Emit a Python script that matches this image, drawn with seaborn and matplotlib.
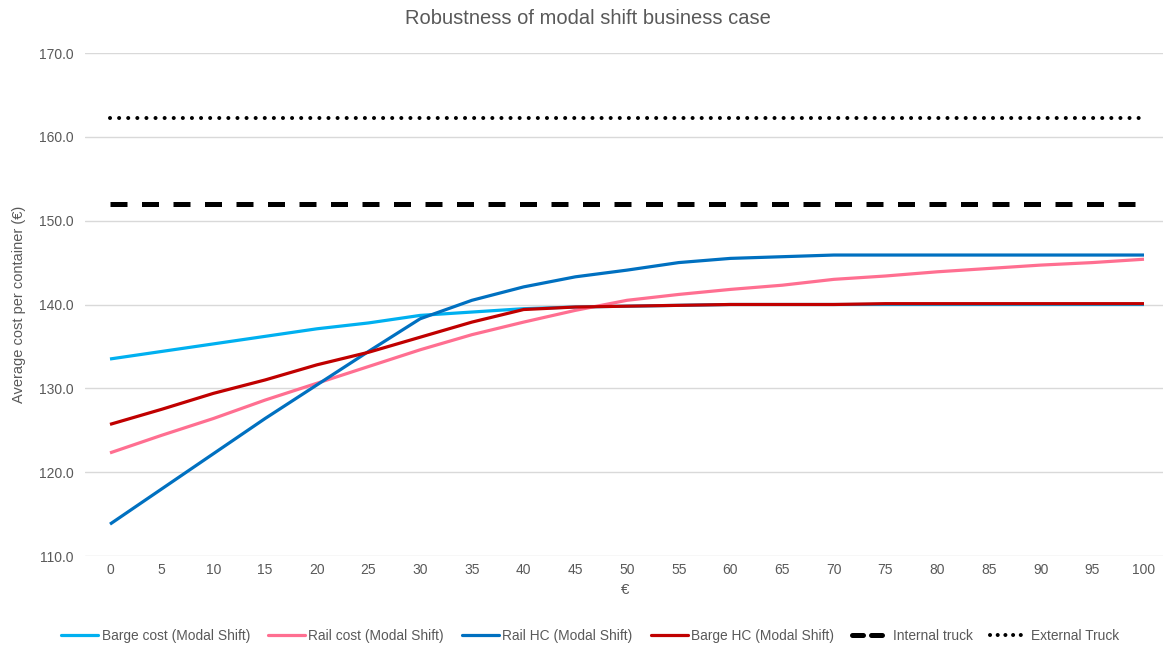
import numpy as np
import pandas as pd
import matplotlib
matplotlib.use("Agg")
import matplotlib.pyplot as plt
import seaborn as sns
from matplotlib.lines import Line2D

# Surcharge levels (€) on the x axis
surcharge = [0, 5, 10, 15, 20, 25, 30, 35, 40, 45, 50,
             55, 60, 65, 70, 75, 80, 85, 90, 95, 100]

# Average cost per container (€) for each scenario
barge_cost = [133.5, 134.4, 135.3, 136.2, 137.1, 137.8, 138.7, 139.1, 139.5, 139.7, 139.8,
              139.9, 140.0, 140.0, 140.0, 140.0, 140.0, 140.0, 140.0, 140.0, 140.0]
rail_cost = [122.3, 124.4, 126.4, 128.6, 130.6, 132.6, 134.6, 136.4, 137.9, 139.3, 140.5,
             141.2, 141.8, 142.3, 143.0, 143.4, 143.9, 144.3, 144.7, 145.0, 145.4]
rail_hc = [113.8, 118.0, 122.2, 126.4, 130.4, 134.4, 138.3, 140.5, 142.1, 143.3, 144.1,
           145.0, 145.5, 145.7, 145.9, 145.9, 145.9, 145.9, 145.9, 145.9, 145.9]
barge_hc = [125.7, 127.5, 129.4, 131.0, 132.8, 134.3, 136.1, 137.9, 139.4, 139.7, 139.8,
            139.9, 140.0, 140.0, 140.0, 140.1, 140.1, 140.1, 140.1, 140.1, 140.1]
internal_truck = [152.0] * len(surcharge)
external_truck = [162.2] * len(surcharge)

series_names = ["Barge cost (Modal Shift)", "Rail cost (Modal Shift)",
                "Rail HC (Modal Shift)", "Barge HC (Modal Shift)",
                "Internal truck", "External Truck"]
series_values = [barge_cost, rail_cost, rail_hc, barge_hc, internal_truck, external_truck]
series_colors = ["#00B0F0", "#FF6F91", "#0070C0", "#C00000", "#000000", "#000000"]

y_ticks = [110, 120, 130, 140, 150, 160, 170]

sns.set_theme(style="white")
plt.rcParams["font.family"] = ["Liberation Sans", "DejaVu Sans"]

grey = "#595959"
fig = plt.figure(figsize=(11.64, 6.46), dpi=100)
ax = fig.add_axes([85 / 1164, 1 - 556 / 646, (1163 - 85) / 1164, (556 - 53) / 646])

px_per_unit = (1144 - 110) / 100.0
ax.set_xlim(-(110 - 85) / px_per_unit, 100 + (1163 - 1144) / px_per_unit)
ax.set_ylim(110, 170)

# Horizontal gridlines
ax.set_yticks(y_ticks)
ax.set_yticklabels([f"{v:.1f}" for v in y_ticks])
for v in y_ticks:
    ax.axhline(v, color="#D9D9D9", lw=1.0, zorder=0)

df = pd.DataFrame({"x": surcharge})
handles = []
for name, vals, col in zip(series_names, series_values, series_colors):
    df[name] = vals
    if name == "Internal truck":
        sns.lineplot(data=df, x="x", y=name, ax=ax, color=col, lw=3.6, zorder=3)
        ln = ax.lines[-1]
        ln.set_dashes((3.4, 2.9))
        ln.set_dash_capstyle("butt")
        h = Line2D([], [], color=col, lw=3.6, dashes=(2.2, 1.6), dash_capstyle="round")
    elif name == "External Truck":
        sns.lineplot(data=df, x="x", y=name, ax=ax, color=col, lw=2.9, zorder=3)
        ln = ax.lines[-1]
        ln.set_dashes((0.01, 2.25))
        ln.set_dash_capstyle("round")
        h = Line2D([], [], color=col, lw=2.9, dashes=(0.01, 1.9), dash_capstyle="round")
    else:
        sns.lineplot(data=df, x="x", y=name, ax=ax, color=col, lw=2.3, zorder=4)
        ax.lines[-1].set_solid_capstyle("butt")
        h = Line2D([], [], color=col, lw=2.3)
    handles.append(h)

ax.set_xticks(surcharge)
ax.set_xticklabels([str(v) for v in surcharge])
ax.tick_params(axis="both", length=0, labelsize=10, labelcolor=grey, pad=8)
ax.tick_params(axis="x", pad=5)
for s in ax.spines.values():
    s.set_visible(False)

ax.set_xlabel("€", fontsize=11, color=grey)
ax.xaxis.set_label_coords((625 - 85) / (1163 - 85), -(583 - 556) / (556 - 53))
ax.set_ylabel("Average cost per container (€)", fontsize=10.5, color=grey)
ax.yaxis.set_label_coords(-(85 - 26) / (1163 - 85), 0.5)

fig.text(588 / 1164, 1 - 19 / 646, "Robustness of modal shift business case",
         ha="center", va="center", fontsize=14.5, color=grey)

fig.legend(handles, series_names, loc="center", bbox_to_anchor=(590 / 1164, 1 - 636 / 646),
           ncol=6, frameon=False, fontsize=9.9, labelcolor=grey,
           handlelength=2.7, handletextpad=0.25, columnspacing=1.3)

fig.savefig("out.png", dpi=100)
